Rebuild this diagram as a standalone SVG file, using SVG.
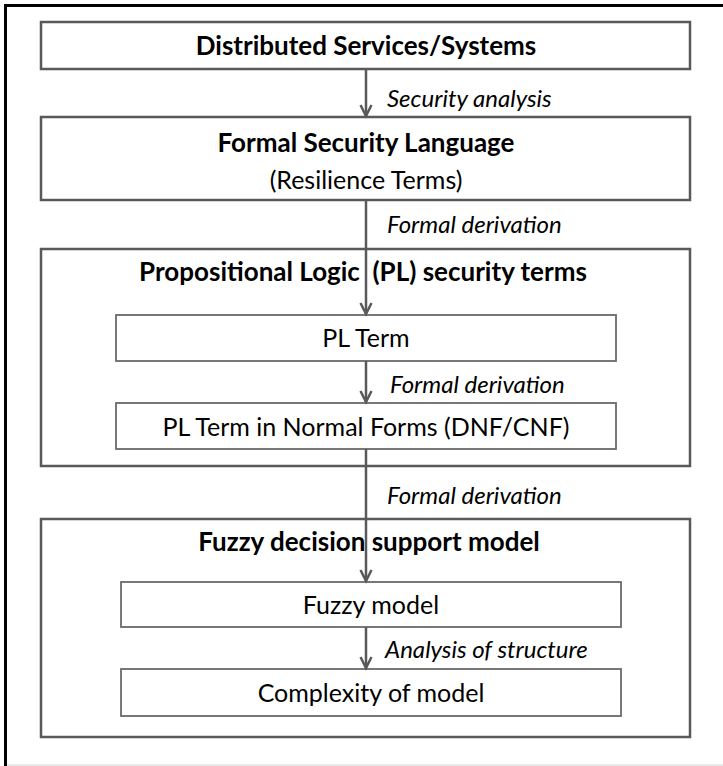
<svg xmlns="http://www.w3.org/2000/svg" width="723" height="766" viewBox="0 0 723 766">
  <style>
    .frame { fill: none; stroke: #000; stroke-width: 3; }
    .edge { fill: none; stroke: #e2e2e2; stroke-width: 1.5; }
    .outer { fill: #fff; stroke: #595959; stroke-width: 2.5; }
    .inner { fill: #fff; stroke: #6a6a6a; stroke-width: 1.8; }
    .title { font-family: Lato, "Liberation Sans", sans-serif; font-weight: bold; font-size: 26px; fill: #000; text-anchor: middle; }
    .body { font-family: Lato, "Liberation Sans", sans-serif; font-size: 25px; fill: #000; text-anchor: middle; }
    .label { font-family: Lato, "Liberation Sans", sans-serif; font-style: italic; font-size: 24px; fill: #000; }
    .conn { fill: none; stroke: #595959; stroke-width: 2.5; }
  </style>
  <defs>
    <marker id="head" markerUnits="userSpaceOnUse" markerWidth="16" markerHeight="16" viewBox="-13 -8 16 16" refX="0" refY="0" orient="auto">
      <path d="M-11,-5.5 L0,0 L-11,5.5" fill="none" stroke="#595959" stroke-width="2.5"/>
    </marker>
  </defs>

  <rect width="723" height="766" fill="#fff"/>
  <!-- page frame -->
  <line class="edge" x1="5" y1="765" x2="723" y2="765"/>
  <polyline class="frame" points="5.5,766 5.5,5.5 723,5.5"/>

  <!-- containers first, so connectors run over them -->
  <g id="distributed-systems">
    <rect class="outer" x="41" y="22" width="649" height="47"/>
    <text class="title" x="366" y="55">Distributed Services/Systems</text>
  </g>

  <g id="formal-security-language">
    <rect class="outer" x="41" y="117" width="649" height="83"/>
    <text class="title" x="366" y="152">Formal Security Language</text>
    <text class="body" x="366" y="189">(Resilience Terms)</text>
  </g>

  <g id="pl-security-terms">
    <rect class="outer" x="41" y="249" width="649" height="217"/>
    <text class="title" x="363" y="281" xml:space="preserve">Propositional Logic  (PL) security terms</text>
  </g>

  <g id="pl-term">
    <rect class="inner" x="116" y="315" width="500" height="46"/>
    <text class="body" x="366" y="347">PL Term</text>
  </g>

  <g id="pl-normal-forms">
    <rect class="inner" x="116" y="403" width="500" height="46"/>
    <text class="body" x="366" y="436">PL Term in Normal Forms (DNF/CNF)</text>
  </g>

  <g id="fuzzy-decision-model">
    <rect class="outer" x="41" y="519" width="649" height="218"/>
    <text class="title" x="369" y="551">Fuzzy decision support model</text>
  </g>

  <g id="fuzzy-model">
    <rect class="inner" x="121" y="582" width="500" height="45"/>
    <text class="body" x="371" y="614">Fuzzy model</text>
  </g>

  <g id="model-complexity">
    <rect class="inner" x="121" y="669" width="500" height="47"/>
    <text class="body" x="371" y="702">Complexity of model</text>
  </g>

  <!-- connectors -->
  <g id="connectors">
    <line class="conn" x1="366" y1="69" x2="366" y2="116" marker-end="url(#head)"/>
    <line class="conn" x1="366" y1="200" x2="366" y2="314" marker-end="url(#head)"/>
    <line class="conn" x1="366" y1="361" x2="366" y2="402" marker-end="url(#head)"/>
    <line class="conn" x1="366" y1="449" x2="366" y2="581" marker-end="url(#head)"/>
    <line class="conn" x1="366" y1="627" x2="366" y2="668" marker-end="url(#head)"/>
    <text class="label" x="387" y="107">Security analysis</text>
    <text class="label" x="387" y="233">Formal derivation</text>
    <text class="label" x="390" y="393">Formal derivation</text>
    <text class="label" x="387" y="504">Formal derivation</text>
    <text class="label" x="385" y="658">Analysis of structure</text>
  </g>
</svg>
